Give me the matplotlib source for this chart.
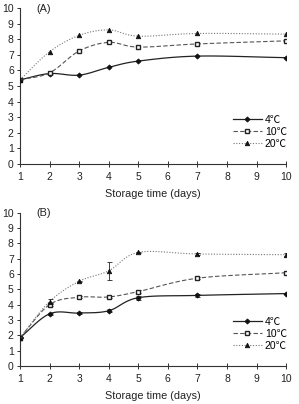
import matplotlib
matplotlib.use("Agg")
import matplotlib.pyplot as plt
import numpy as np

plt.rcParams["font.family"] = ["Liberation Sans", "Noto Sans CJK SC", "DejaVu Sans"]
plt.rcParams["font.size"] = 7.5

DAYS = [1, 2, 3, 4, 5, 7, 10]
LABELS = ["4\u2103", "10\u2103", "20\u2103"]

# panel A
A_4C = [5.4, 5.8, 5.7, 6.2, 6.6, 6.92, 6.82]
A_10C = [5.4, 5.85, 7.25, 7.8, 7.5, 7.7, 7.9]
A_20C = [5.4, 7.2, 8.25, 8.6, 8.2, 8.37, 8.33]

# panel B
B_4C = [1.85, 3.4, 3.45, 3.6, 4.45, 4.6, 4.72]
B_10C = [1.85, 4.0, 4.48, 4.5, 4.85, 5.72, 6.08]
B_20C = [1.85, 4.2, 5.52, 6.2, 7.4, 7.3, 7.25]
B_4C_ERR = [0.05, 0.05, 0.08, 0.1, 0.12, 0.08, 0.05]
B_10C_ERR = [0.05, 0.1, 0.05, 0.05, 0.1, 0.08, 0.08]
B_20C_ERR = [0.05, 0.15, 0.05, 0.6, 0.05, 0.08, 0.08]

STYLES = [
    dict(color="#222222", ls="-", lw=0.9, marker="D", ms=2.6, mfc="#111111", mec="#111111"),
    dict(color="#555555", ls=(0, (4, 2)), lw=0.8, marker="s", ms=3.2, mfc="white", mec="#222222", mew=1.0),
    dict(color="#777777", ls=(0, (1, 1.5)), lw=0.8, marker="^", ms=3.2, mfc="#111111", mec="#111111"),
]


def smooth(x, y, n=20):
    # Catmull-Rom style curve through the points (like spreadsheet smoothed lines)
    x = np.asarray(x, float)
    y = np.asarray(y, float)
    px = np.concatenate([[2 * x[0] - x[1]], x, [2 * x[-1] - x[-2]]])
    py = np.concatenate([[2 * y[0] - y[1]], y, [2 * y[-1] - y[-2]]])
    xs, ys = [], []
    for i in range(1, len(px) - 2):
        t = np.linspace(0, 1, n)
        for p, out in ((px, xs), (py, ys)):
            p0, p1, p2, p3 = p[i - 1], p[i], p[i + 1], p[i + 2]
            m1 = (p2 - p0) / 2
            m2 = (p3 - p1) / 2
            h00 = 2 * t**3 - 3 * t**2 + 1
            h10 = t**3 - 2 * t**2 + t
            h01 = -2 * t**3 + 3 * t**2
            h11 = t**3 - t**2
            out.extend(h00 * p1 + h10 * m1 + h01 * p2 + h11 * m2)
    return np.array(xs), np.array(ys)


def draw_panel(ax, series, errs, tag):
    for vals, err, st, lab in zip(series, errs, STYLES, LABELS):
        sx, sy = smooth(DAYS, vals)
        ax.plot(sx, sy, color=st["color"], ls=st["ls"], lw=st["lw"], zorder=2)
        if err is not None:
            ax.errorbar(DAYS, vals, yerr=err, fmt="none", ecolor="#222222",
                        elinewidth=0.6, capsize=1.8, capthick=0.6, zorder=3)
        ax.plot(DAYS, vals, ls="none", marker=st["marker"], ms=st["ms"],
                mfc=st["mfc"], mec=st["mec"], mew=st.get("mew", 0.6), zorder=4)
        ax.plot([], [], color=st["color"], ls=st["ls"], lw=st["lw"],
                marker=st["marker"], ms=st["ms"], mfc=st["mfc"], mec=st["mec"],
                mew=st.get("mew", 0.6), label=lab)
    ax.set_xlim(1, 10)
    ax.set_ylim(0, 10)
    ax.set_xticks(range(1, 11))
    ax.set_yticks(range(0, 11))
    for s in ("top", "right"):
        ax.spines[s].set_visible(False)
    for s in ("left", "bottom"):
        ax.spines[s].set_linewidth(0.8)
        ax.spines[s].set_color("#333333")
    ax.tick_params(axis="x", direction="inout", length=4, width=0.7, pad=4, colors="#333333")
    ax.tick_params(axis="y", direction="out", length=2.5, width=0.7, pad=2, colors="#333333")
    ax.tick_params(labelcolor="#222222", labelsize=7.5)
    ax.set_xlabel("Storage time (days)", fontsize=7.8, labelpad=5, color="#222222")
    ax.text(1.55, 9.95, tag, fontsize=7.8, va="center", ha="left", color="#222222")
    ax.legend(loc="lower right", bbox_to_anchor=(1.03, 0.05), frameon=False,
              fontsize=7.5, handlelength=2.8, handletextpad=0.3, labelspacing=0.2,
              borderpad=0.2)
    ax.patch.set_alpha(0)


fig = plt.figure(figsize=(2.99, 4.04), dpi=100)
ax1 = fig.add_axes([0.067, 0.594, 0.890, 0.386])
ax2 = fig.add_axes([0.067, 0.094, 0.890, 0.380])

draw_panel(ax1, [A_4C, A_10C, A_20C], [None, None, None], "(A)")
draw_panel(ax2, [B_4C, B_10C, B_20C], [B_4C_ERR, B_10C_ERR, B_20C_ERR], "(B)")

fig.savefig("out.png", dpi=100, facecolor="white")
